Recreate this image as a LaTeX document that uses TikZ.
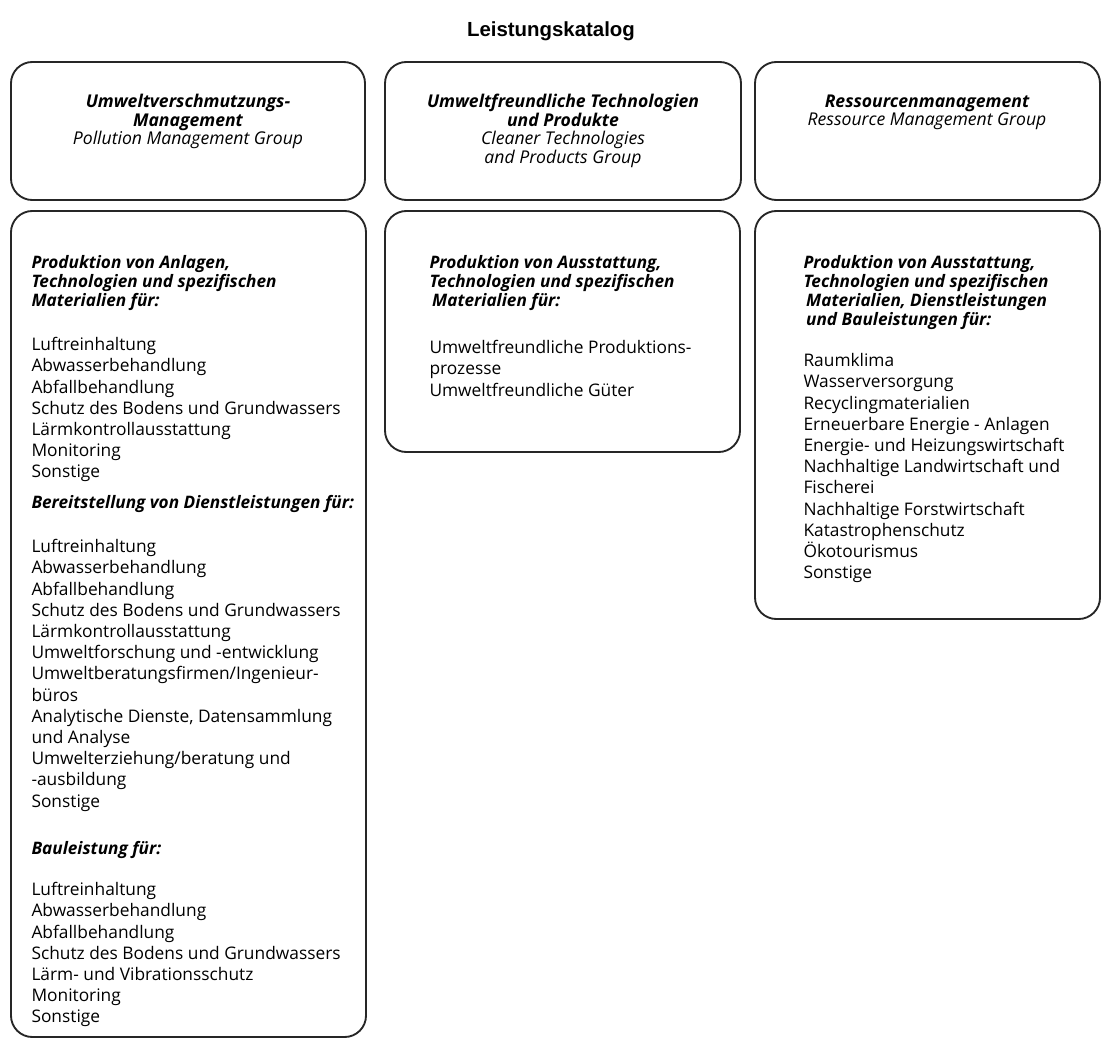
\documentclass[tikz,border=0pt]{standalone}
\usepackage{fontspec}
\setmainfont{Open Sans}
\newfontfamily\titlefont{Liberation Sans}

\tikzset{every picture/.style={line width=0.75pt}}
\tikzset{
  panel/.style={draw=black!85, line width=1.4pt, rounded corners=16pt},
  grouptext/.style={anchor=north, inner sep=0.75pt, align=center, font=\fontsize{13.2}{13.8}\selectfont\itshape},
  listhead/.style={anchor=north west, inner sep=0.75pt, align=left, font=\fontsize{12.9}{14.2}\selectfont\bfseries\itshape},
  listtext/.style={anchor=north west, inner sep=0.75pt, align=left, font=\fontsize{13}{15.9}\selectfont},
}

\begin{document}
\begin{tikzpicture}[x=0.75pt,y=0.75pt,yscale=-1,xscale=1]
\useasboundingbox (0,0) rectangle (1102,1041);

% Title
\draw (551,37) node [anchor=base][inner sep=0.75pt] (title) {\titlefont\bfseries\fontsize{15.3}{18}\selectfont Leistungskatalog};

%Rounded Rect: group boxes
\draw [panel] (11,62) rectangle (365,200);
\draw [panel] (385,62) rectangle (741,200);
\draw [panel] (755,62) rectangle (1100,200);
%Rounded Rect: catalogue boxes
\draw [panel] (11,211) rectangle (366,1037);
\draw [panel] (385,211) rectangle (740,452);
\draw [panel] (755,211) rectangle (1100,619);

% Text Node
\draw (188,93) node [grouptext] (pmg) {\textbf{Umweltverschmutzungs-}\\\textbf{Management}\\Pollution Management Group};
% Text Node
\draw (563,93) node [grouptext] (ctpg) {\textbf{Umweltfreundliche Technologien}\\\textbf{und Produkte}\\Cleaner Technologies\\and Products Group};
% Text Node
\draw (927,93) node [grouptext] (rmg) {\textbf{Ressourcenmanagement}\\Ressource Management Group};

% Text Node
\draw (30,254) node [listhead] (pmghead) {Produktion von Anlagen,\\Technologien und spezifischen\\Materialien für:};
% Text Node
\draw (30,336) node [listtext] (pmglist) {Luftreinhaltung\\Abwasserbehandlung\\Abfallbehandlung\\Schutz des Bodens und Grundwassers\\Lärmkontrollausstattung\\Monitoring\\Sonstige};
% Text Node
\draw (30,494) node [listhead] (dlhead) {Bereitstellung von Dienstleistungen für:};
% Text Node
\draw (30,538) node [listtext] (dllist) {Luftreinhaltung\\Abwasserbehandlung\\Abfallbehandlung\\Schutz des Bodens und Grundwassers\\Lärmkontrollausstattung\\Umweltforschung und -entwicklung\\Umweltberatungsfirmen/Ingenieur-\\büros\\Analytische Dienste, Datensammlung\\und Analyse\\Umwelterziehung/beratung und\\-ausbildung\\Sonstige};
% Text Node
\draw (30,840) node [listhead] (bauhead) {Bauleistung für:};
% Text Node
\draw (30,881) node [listtext] (baulist) {Luftreinhaltung\\Abwasserbehandlung\\Abfallbehandlung\\Schutz des Bodens und Grundwassers\\Lärm- und Vibrationsschutz\\Monitoring\\Sonstige};

% Text Node
\draw (428,254) node [listhead] (ctphead) {Produktion von Ausstattung,\\Technologien und spezifischen\\\hspace{2pt}Materialien für:};
% Text Node
\draw (428,339) node [listtext] (ctplist) {Umweltfreundliche Produktions-\\prozesse\\Umweltfreundliche Güter};

% Text Node
\draw (802,254) node [listhead] (rmhead) {Produktion von Ausstattung,\\Technologien und spezifischen\\\hspace{2pt}Materialien, Dienstleistungen\\\hspace{2pt}und Bauleistungen für:};
% Text Node
\draw (802,352) node [listtext] (rmlist) {Raumklima\\Wasserversorgung\\Recyclingmaterialien\\Erneuerbare Energie - Anlagen\\Energie- und Heizungswirtschaft\\Nachhaltige Landwirtschaft und\\Fischerei\\Nachhaltige Forstwirtschaft\\Katastrophenschutz\\Ökotourismus\\Sonstige};
\end{tikzpicture}
\end{document}
